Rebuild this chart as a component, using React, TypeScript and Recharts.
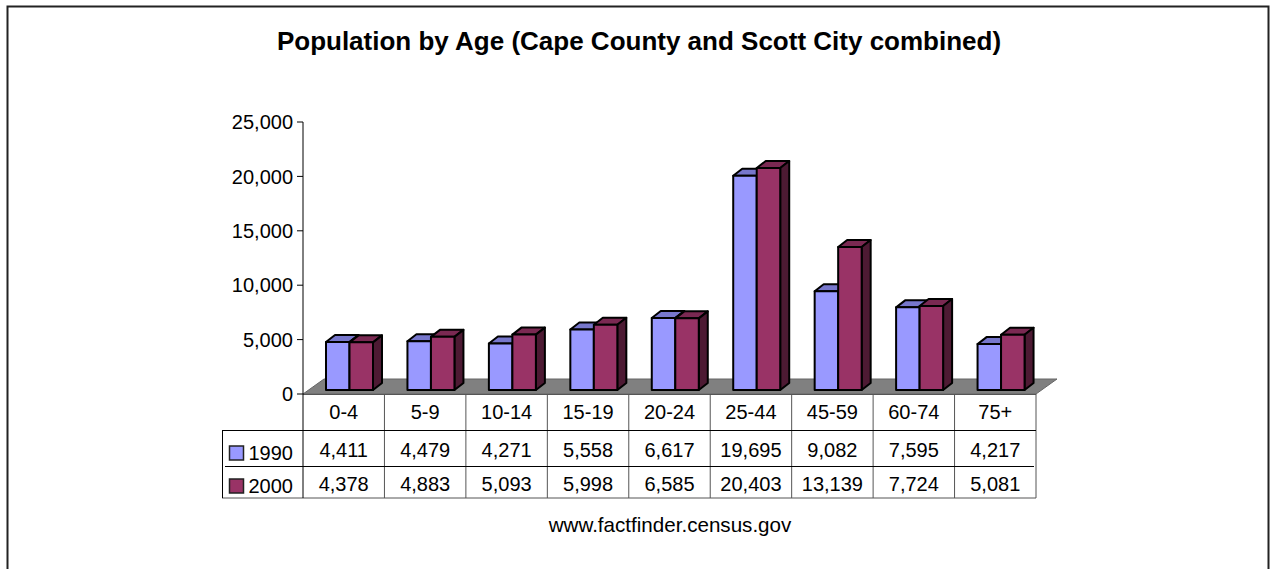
import React from "react"
import { BarChart, Bar, XAxis, YAxis } from "recharts"

const ageGroups = ["0-4", "5-9", "10-14", "15-19", "20-24", "25-44", "45-59", "60-74", "75+"]
const pop1990 = [4411, 4479, 4271, 5558, 6617, 19695, 9082, 7595, 4217]
const pop2000 = [4378, 4883, 5093, 5998, 6585, 20403, 13139, 7724, 5081]
const yTicks = [0, 5000, 10000, 15000, 20000, 25000]

const chartData = ageGroups.map((age, i) => ({ age, y1990: pop1990[i], y2000: pop2000[i] }))

const FONT = "'Liberation Sans', Arial, sans-serif"
const COLORS = {
  y1990: { front: "#9999ff", top: "#7777cc", side: "#4d4d80" },
  y2000: { front: "#993366", top: "#7a2952", side: "#4d1a33" },
}

const W = 1272
const H = 569
const LEFT = 303
const RIGHT = 1036
const ZERO = 394
const TOP = 122
const LABEL_SIZE = 20

const fmt = (v: number) => v.toLocaleString("en-US")

// fake 3D column, pushed back onto the floor
function bar3d(colors: { front: string; top: string; side: string }) {
  return (props: any) => {
    const { x, y, width, height } = props
    const dx = 6
    const dy = -4
    const depthX = 9
    const depthY = -7
    const x0 = x + dx
    const x1 = x0 + width
    const y0 = y + dy
    const y1 = y0 + height
    return (
      <g stroke="#000" strokeWidth={2} strokeLinejoin="round">
        <polygon
          points={`${x0},${y0} ${x0 + depthX},${y0 + depthY} ${x1 + depthX},${y0 + depthY} ${x1},${y0}`}
          fill={colors.top}
        />
        <polygon
          points={`${x1},${y0} ${x1 + depthX},${y0 + depthY} ${x1 + depthX},${y1 + depthY} ${x1},${y1}`}
          fill={colors.side}
        />
        <rect x={x0} y={y0} width={width} height={height} fill={colors.front} />
      </g>
    )
  }
}

function TableTick(props: any) {
  const { x, index } = props
  const style = { fontFamily: FONT, fontSize: LABEL_SIZE, fill: "#000", textAnchor: "middle" as const }
  return (
    <g>
      <text x={x} y={419} style={style}>{ageGroups[index]}</text>
      <text x={x} y={457} style={style}>{fmt(pop1990[index])}</text>
      <text x={x} y={491} style={style}>{fmt(pop2000[index])}</text>
    </g>
  )
}

export default function App() {
  const step = (RIGHT - LEFT) / ageGroups.length
  return (
    <div style={{ position: "absolute", left: 0, top: 0, width: W, height: H, background: "#fff" }}>
      <BarChart
        width={W}
        height={H}
        data={chartData}
        margin={{ top: TOP, right: W - RIGHT, left: LEFT - 70, bottom: 71 }}
        barGap={0}
        barSize={23.5}
      >
        <path d={`M7.5,${H} V6.5 H1268.5 V${H}`} fill="none" stroke="#222" strokeWidth={2} />
        <text x={639} y={50} textAnchor="middle" fontFamily={FONT} fontWeight="bold" fontSize={26}>
          Population by Age (Cape County and Scott City combined)
        </text>
        <polygon
          points={`${LEFT},${ZERO} ${LEFT + 21},379 ${RIGHT + 21},379 ${RIGHT},${ZERO}`}
          fill="#808080"
          stroke="#666"
        />
        <XAxis dataKey="age" axisLine={false} tickLine={false} height={104} interval={0} tick={TableTick} />
        <YAxis
          width={70}
          domain={[0, 25000]}
          ticks={yTicks}
          tickFormatter={fmt}
          tickSize={6}
          tickMargin={4}
          stroke="#000"
          tick={{ fontFamily: FONT, fontSize: LABEL_SIZE, fill: "#000" }}
        />
        <Bar dataKey="y1990" isAnimationActive={false} shape={bar3d(COLORS.y1990)} />
        <Bar dataKey="y2000" isAnimationActive={false} shape={bar3d(COLORS.y2000)} />

        {/* data table frame */}
        <g stroke="#555" fill="none">
          {ageGroups.map((a, i) => (
            <line key={a} x1={LEFT + step * (i + 1)} x2={LEFT + step * (i + 1)} y1={ZERO} y2={498} />
          ))}
          <line x1={LEFT} x2={RIGHT} y1={ZERO + 0.5} y2={ZERO + 0.5} />
          <line x1={222} x2={RIGHT} y1={498} y2={498} />
          <line x1={222.5} x2={222.5} y1={430} y2={498} stroke="#000" />
          <line x1={LEFT} x2={LEFT} y1={ZERO} y2={498} stroke="#000" />
          <line x1={222} x2={RIGHT} y1={430.5} y2={430.5} stroke="#000" />
          <line x1={225} x2={RIGHT - 2} y1={466.5} y2={466.5} stroke="#000" />
        </g>

        {/* legend keys live in the table */}
        <rect x={229.5} y={446} width={14} height={14} fill={COLORS.y1990.front} stroke="#222" strokeWidth={1.5} />
        <rect x={229.5} y={479} width={14} height={14} fill={COLORS.y2000.front} stroke="#222" strokeWidth={1.5} />
        <text x={293} y={460} textAnchor="end" fontFamily={FONT} fontSize={LABEL_SIZE}>1990</text>
        <text x={293} y={493} textAnchor="end" fontFamily={FONT} fontSize={LABEL_SIZE}>2000</text>
        <text x={670} y={532} textAnchor="middle" fontFamily={FONT} fontSize={LABEL_SIZE + 0.6}>www.factfinder.census.gov</text>
      </BarChart>
    </div>
  )
}
